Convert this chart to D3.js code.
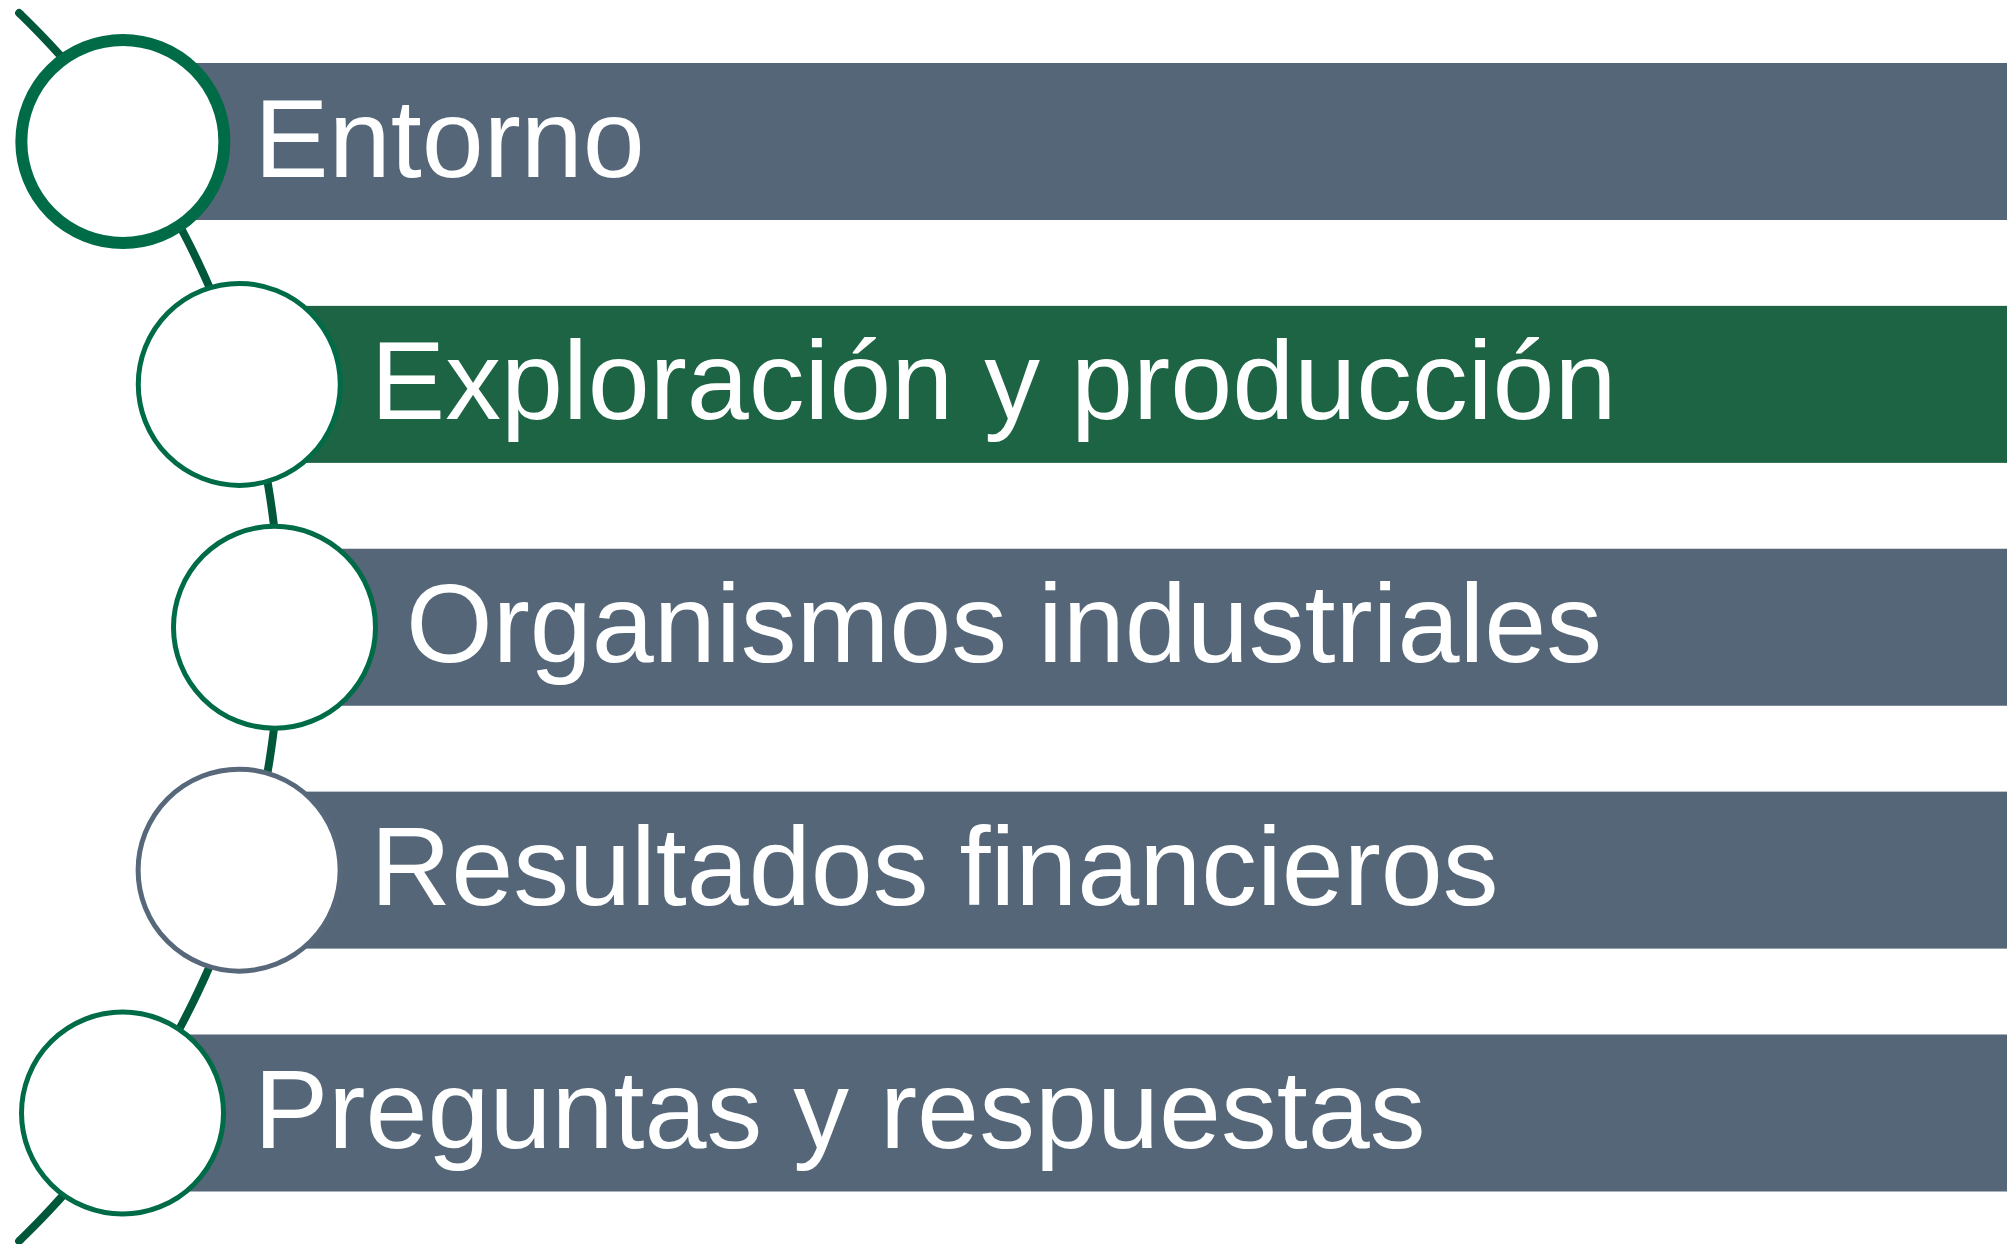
<!DOCTYPE html>
<html>
<head>
<meta charset="utf-8">
<script src="https://cdn.jsdelivr.net/npm/d3@7"></script>
<style>
  html, body { margin: 0; padding: 0; background: #ffffff; overflow: hidden; }
  svg { display: block; }
</style>
</head>
<body>
<svg id="chart" width="2007" height="1244"></svg>
<script>
// ---- data ----
const categories = [
  "Entorno",
  "Exploración y producción",
  "Organismos industriales",
  "Resultados financieros",
  "Preguntas y respuestas"
];
const highlighted = [false, true, false, false, false];   // active section (green bar)
const ringKind = ["current", "normal", "normal", "muted", "normal"];

// ---- styles ----
const W = 2007, H = 1244;
const barGray = "#546677";
const barGreen = "#1d6444";
const ringGreen = "#006b47";
const ringGray = "#56687a";
const arcColor = "#00573a";

const svg = d3.select("#chart");

// vertical positions from a point scale over categories
const y = d3.scalePoint().domain(categories).range([141.5, 1113]);
const barH = 157;

// the curved spine (arc of a large circle whose centre lies left of the page)
const arcCx = -573, arcCy = 627, arcR = 853;
const arcX = yy => arcCx + Math.sqrt(arcR * arcR - (yy - arcCy) * (yy - arcCy));
const circleX = yy => arcX(yy) - 5.5;
const ringR = 101;

// spine
const ys = d3.range(13, 1241.5, 2);
svg.append("path")
  .attr("d", d3.line().x(d => arcX(d)).y(d => d).curve(d3.curveBasis)(ys))
  .attr("fill", "none")
  .attr("stroke", arcColor)
  .attr("stroke-width", 8)
  .attr("stroke-linecap", "round");

// bars
svg.selectAll("rect.bar")
  .data(categories)
  .join("rect")
  .attr("class", "bar")
  .attr("x", d => circleX(y(d)))
  .attr("y", d => y(d) - barH / 2)
  .attr("width", d => W - circleX(y(d)) + 5)
  .attr("height", barH)
  .attr("fill", (d, i) => highlighted[i] ? barGreen : barGray);

// labels
svg.selectAll("text.label")
  .data(categories)
  .join("text")
  .attr("class", "label")
  .attr("x", d => circleX(y(d)) + 131.5)
  .attr("y", d => y(d) + 35)
  .attr("fill", "#ffffff")
  .attr("font-family", "'Liberation Sans', Arial, Helvetica, sans-serif")
  .attr("font-size", 111.5)
  .text(d => d);

// rings
svg.selectAll("circle.ring")
  .data(categories)
  .join("circle")
  .attr("class", "ring")
  .attr("cx", d => circleX(y(d)))
  .attr("cy", d => y(d))
  .attr("r", (d, i) => ringKind[i] === "current" ? ringR + 0.5 : ringR)
  .attr("fill", "#ffffff")
  .attr("stroke", (d, i) => ringKind[i] === "muted" ? ringGray : ringGreen)
  .attr("stroke-width", (d, i) => ringKind[i] === "current" ? 12 : 5);
</script>
</body>
</html>
